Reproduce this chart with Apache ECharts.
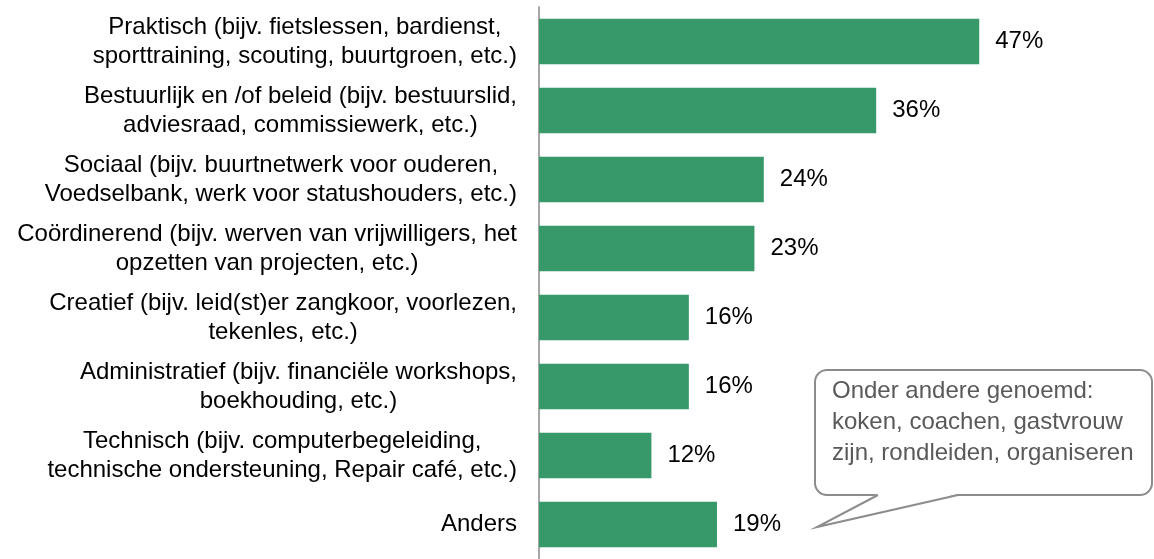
<!DOCTYPE html>
<html>
<head>
<meta charset="utf-8">
<script src="https://cdn.jsdelivr.net/npm/echarts@6/dist/echarts.min.js"></script>
<style>
  html, body { margin: 0; padding: 0; background: #fff; }
  #chart { width: 1154px; height: 559px; }
</style>
</head>
<body>
<div id="chart"></div>
<script>
// categorieen (van boven naar beneden)
const categories = [
  'Praktisch (bijv. fietslessen, bardienst,\nsporttraining, scouting, buurtgroen, etc.)',
  'Bestuurlijk en /of beleid (bijv. bestuurslid,\nadviesraad, commissiewerk, etc.)',
  'Sociaal (bijv. buurtnetwerk voor ouderen,\nVoedselbank, werk voor statushouders, etc.)',
  'Coördinerend (bijv. werven van vrijwilligers, het\nopzetten van projecten, etc.)',
  'Creatief (bijv. leid(st)er zangkoor, voorlezen,\ntekenles, etc.)',
  'Administratief (bijv. financiële workshops,\nboekhouding, etc.)',
  'Technisch (bijv. computerbegeleiding,\ntechnische ondersteuning, Repair café, etc.)',
  'Anders'
]
const percentages = [47, 36, 24, 23, 16, 16, 12, 19]
const calloutLines = [
  'Onder andere genoemd:',
  'koken, coachen, gastvrouw',
  'zijn, rondleiden, organiseren'
]

const font = '"Liberation Sans", Arial, sans-serif'
const grey = '#8c8c8c'

let myChart = echarts.init(document.getElementById('chart'))
myChart.setOption({
  animation: false,
  grid: {
    left: 539,
    top: 7,
    width: 562,
    height: 555,
  },
  xAxis: {
    type: 'value',
    min: 0,
    max: 60,
    show: false,
    splitLine: { show: false },
  },
  yAxis: {
    type: 'category',
    inverse: true,
    data: categories,
    axisLine: {
      show: true,
      lineStyle: { color: '#a6a6a6', width: 2 },
    },
    axisTick: { show: false },
    axisLabel: {
      margin: 22,
      formatter: (v) => v.split('\n').map((l) => '{c|' + l + '}').join('\n'),
      rich: {
        c: {
          align: 'center',
          fontSize: 24,
          lineHeight: 29,
          color: '#000',
          fontFamily: font,
        },
      },
    },
  },
  series: [
    {
      type: 'bar',
      data: percentages,
      barCategoryGap: '34%',
      itemStyle: { color: '#37996a' },
      label: {
        show: true,
        position: 'right',
        distance: 16,
        formatter: '{c}%',
        fontSize: 24,
        color: '#000',
        fontFamily: font,
      },
    },
  ],
  graphic: [
    // tekstballon
    {
      type: 'rect',
      shape: { x: 815, y: 370, width: 337, height: 125, r: 12 },
      style: { fill: '#fff', stroke: grey, lineWidth: 2 },
    },
    {
      type: 'polygon',
      shape: { points: [[878, 494], [817, 527], [958, 494]] },
      style: { fill: '#fff' },
    },
    {
      type: 'polyline',
      shape: { points: [[878, 495], [817, 527], [958, 495]] },
      style: { fill: null, stroke: grey, lineWidth: 2 },
    },
    {
      type: 'text',
      left: 832,
      top: 376,
      style: {
        text: calloutLines.join('\n'),
        fontSize: 24,
        lineHeight: 31,
        fill: '#595959',
        fontFamily: font,
      },
    },
  ],
})
</script>
</body>
</html>
